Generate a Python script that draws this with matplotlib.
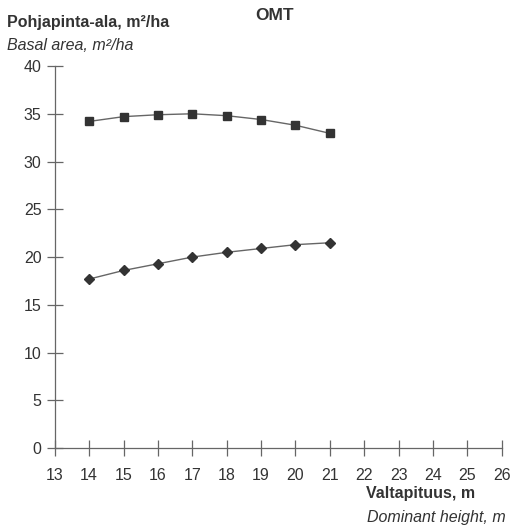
import numpy as np
import matplotlib
matplotlib.use("Agg")
import matplotlib.pyplot as plt

plt.rcParams['font.family'] = ['Liberation Sans', 'DejaVu Sans']

# dominant height (m) and basal area (m2/ha) for the two series
height = [14, 15, 16, 17, 18, 19, 20, 21]
basal_sq = [34.2, 34.7, 34.9, 35.0, 34.8, 34.4, 33.8, 32.95]
basal_dia = [17.7, 18.6, 19.3, 20.0, 20.5, 20.9, 21.3, 21.5]
xticks = list(range(13, 27))
yticks = list(range(0, 41, 5))

fig = plt.figure(figsize=(5.12, 5.26), dpi=100)
ax = fig.add_axes([0.107, 0.148, 0.873, 0.7265])

ax.plot(height, basal_sq, color='#666666', lw=1, marker='s', ms=6,
        mfc='#333333', mec='#333333')
ax.plot(height, basal_dia, color='#666666', lw=1, marker='D', ms=5,
        mfc='#333333', mec='#333333')

ax.set_xlim(13, 26)
ax.set_ylim(0, 40)
ax.set_xticks(xticks)
ax.set_yticks(yticks)
for s in ['top', 'right']:
    ax.spines[s].set_visible(False)
for s in ['left', 'bottom']:
    ax.spines[s].set_color('#666666')
    ax.spines[s].set_linewidth(0.9)
ax.tick_params(direction='inout', length=11, width=0.9, color='#666666',
               labelsize=11.5, labelcolor='#333333')
ax.tick_params(axis='x', pad=9)
ax.tick_params(axis='y', pad=4)

fig.text(0.537, 0.971, 'OMT', ha='center', va='center', fontsize=12.5,
         fontweight='bold', color='#333333')
fig.text(0.014, 0.957, 'Pohjapinta-ala, m²/ha', ha='left', va='center',
         fontsize=11.5, fontweight='bold', color='#333333')
fig.text(0.014, 0.913, 'Basal area, m²/ha', ha='left', va='center',
         fontsize=11.5, style='italic', color='#333333')
fig.text(0.928, 0.061, 'Valtapituus, m', ha='right', va='center',
         fontsize=11.5, fontweight='bold', color='#333333')
fig.text(0.987, 0.016, 'Dominant height, m', ha='right', va='center',
         fontsize=11.5, style='italic', color='#333333')

fig.savefig('out.png', dpi=100)
